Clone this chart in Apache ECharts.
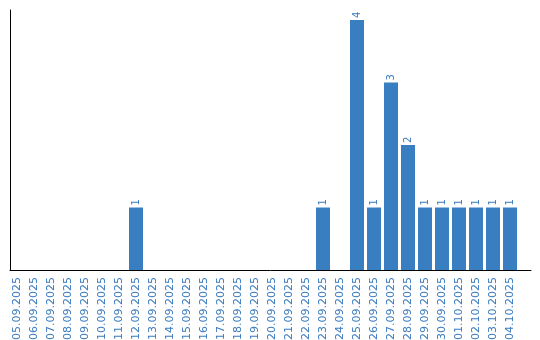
<!DOCTYPE html>
<html><head><meta charset="utf-8">
<script src="https://cdn.jsdelivr.net/npm/echarts@6/dist/echarts.min.js"></script>
<style>html,body{margin:0;padding:0;background:#fff}#c{width:540px;height:340px}</style>
</head><body><div id="c"></div>
<script>
var categories = ["05.09.2025","06.09.2025","07.09.2025","08.09.2025","09.09.2025","10.09.2025","11.09.2025","12.09.2025","13.09.2025","14.09.2025","15.09.2025","16.09.2025","17.09.2025","18.09.2025","19.09.2025","20.09.2025","21.09.2025","22.09.2025","23.09.2025","24.09.2025","25.09.2025","26.09.2025","27.09.2025","28.09.2025","29.09.2025","30.09.2025","01.10.2025","02.10.2025","03.10.2025","04.10.2025"];
var values = [0,0,0,0,0,0,0,1,0,0,0,0,0,0,0,0,0,0,1,0,4,1,3,2,1,1,1,1,1,1];
var chart = echarts.init(document.getElementById('c'), null, {renderer:'canvas'});
chart.setOption({
  animation:false,
  grid:[
    {left:8.5,right:21.5,top:10,bottom:70,containLabel:false,outerBoundsMode:'none'},
    {left:10,right:9,top:10,bottom:70,containLabel:false,outerBoundsMode:'none'}
  ],
  xAxis:[
    {type:'category',gridIndex:0,data:categories,
      axisLine:{show:false},axisTick:{show:false},
      axisLabel:{rotate:90,interval:0,color:'#3a7bbf',fontFamily:'DejaVu Sans',fontSize:11,margin:7}},
    {type:'value',gridIndex:1,min:0,max:1,
      axisLine:{show:true,onZero:false,lineStyle:{color:'#000',width:1}},
      axisTick:{show:false},axisLabel:{show:false},splitLine:{show:false}}
  ],
  yAxis:[
    {type:'value',gridIndex:0,min:0,max:4.16,show:false,splitLine:{show:false}},
    {type:'value',gridIndex:1,min:0,max:1,
      axisLine:{show:true,onZero:false,lineStyle:{color:'#000',width:1}},
      axisTick:{show:false},axisLabel:{show:false},splitLine:{show:false}}
  ],
  series:[{type:'bar',xAxisIndex:0,yAxisIndex:0,
    data:values.map(function(v){return v===0?{value:v,label:{show:false}}:v;}),
    barWidth:14,
    itemStyle:{color:'#3a7ec2'},
    label:{show:true,position:'top',rotate:90,align:'left',verticalAlign:'middle',distance:2,color:'#3a7bbf',fontFamily:'DejaVu Sans',fontSize:10}}]
});
</script></body></html>
